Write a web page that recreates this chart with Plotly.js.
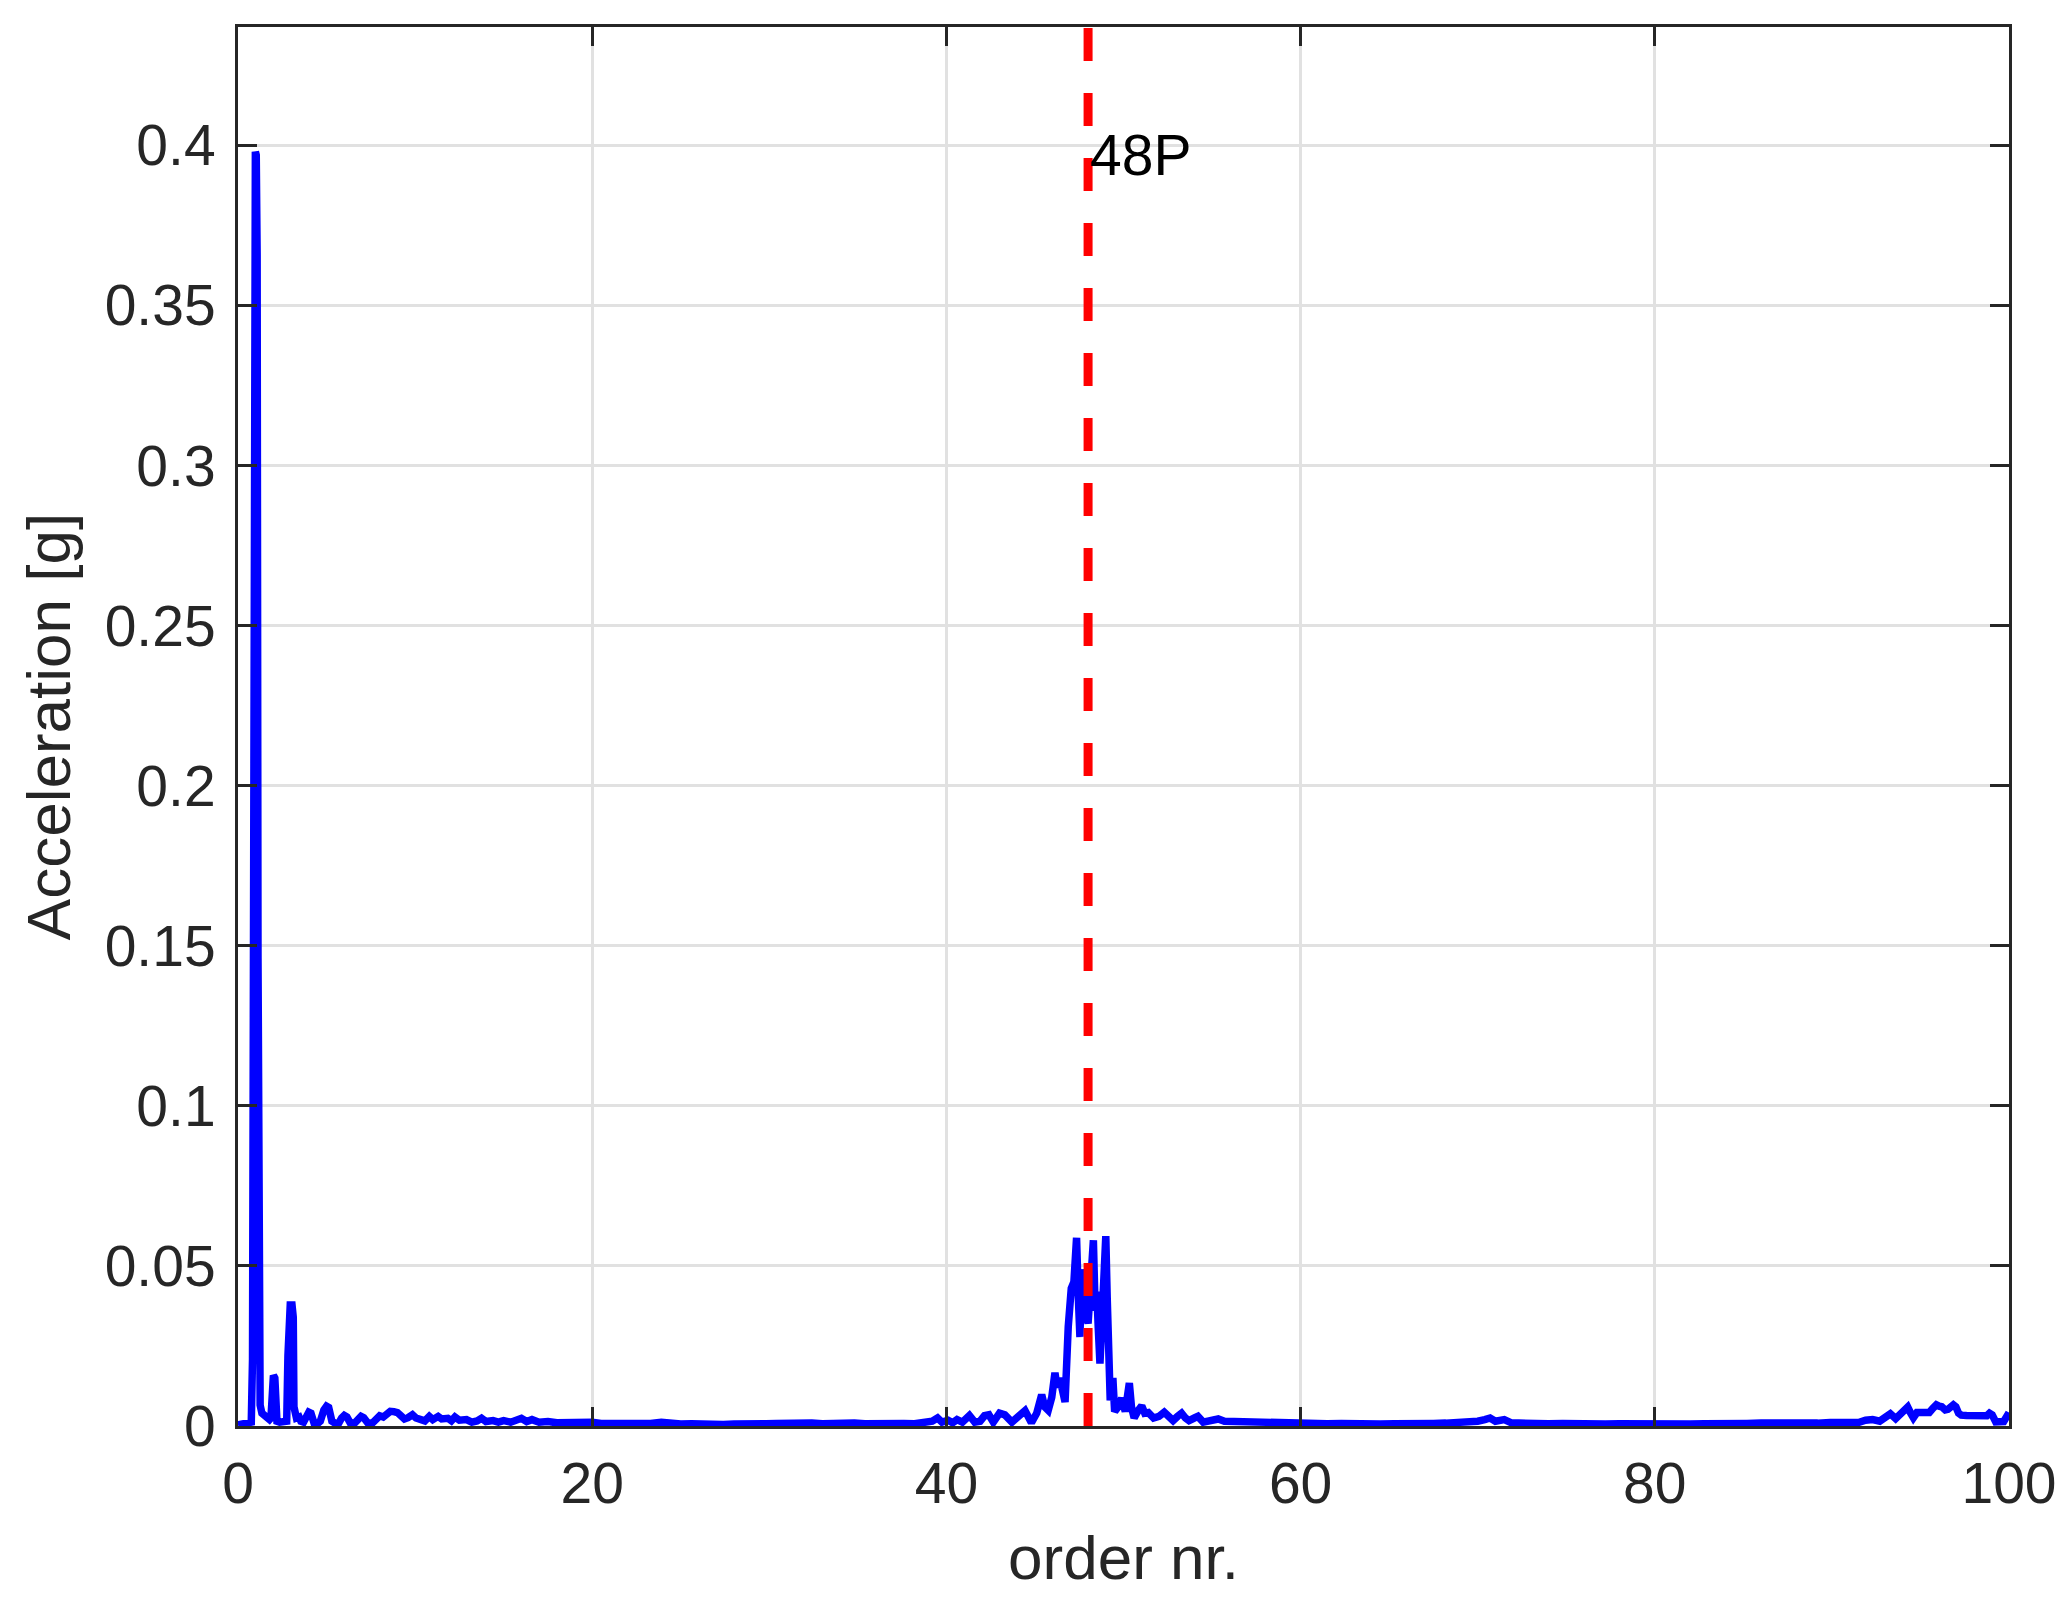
<!DOCTYPE html>
<html>
<head>
<meta charset="utf-8">
<script src="https://cdn.plot.ly/plotly-3.0.1.min.js"></script>
<style>html,body{margin:0;padding:0;background:#fff;}#chart{width:2066px;height:1611px;}</style>
</head>
<body>
<div id="chart"></div>
<script>
// ---- data ----
const orderNr = [
  0, 0.2, 0.4, 0.6, 0.75, 0.82, 0.88, 0.93, 0.98, 1.03, 1.08, 1.13, 1.18, 1.25, 1.35, 1.5, 1.65, 1.78,
  1.86, 1.92, 2.0, 2.08, 2.13, 2.2, 2.35, 2.5, 2.65, 2.75, 2.82, 2.88, 2.95, 3.05, 3.12, 3.16, 3.22, 3.3,
  3.45, 3.55, 3.7, 3.85, 4.0, 4.12, 4.3, 4.5, 4.65, 4.85, 5.0, 5.12, 5.3, 5.5, 5.7, 5.85, 6.0, 6.15,
  6.35, 6.6, 6.8, 6.95, 7.1, 7.35, 7.6, 7.85, 8.0, 8.2, 8.4, 8.6, 8.8, 9.0, 9.2, 9.4, 9.6, 9.85,
  10.05, 10.3, 10.55, 10.8, 11.0, 11.3, 11.5, 11.85, 12.05, 12.25, 12.5, 12.9, 13.2, 13.5, 13.75, 14.0,
  14.4, 14.7, 15.0, 15.4, 15.7, 16.0, 16.3, 16.6, 17.0, 17.5, 18.0, 18.6, 19.2, 20.0, 20.5, 21.0,
  21.6, 22.2, 22.8, 23.3, 23.9, 24.4, 25.0, 25.6, 26.2, 26.8, 27.4, 28.0, 28.6, 29.2, 29.8, 30.4,
  30.9, 31.3, 31.8, 32.4, 33.0, 33.6, 34.2, 34.8, 35.4, 36.0, 36.6, 37.1, 37.6, 38.2, 38.8, 39.2,
  39.5, 39.75, 40.1, 40.35, 40.6, 40.9, 41.3, 41.6, 41.9, 42.15, 42.4, 42.65, 43.0, 43.3, 43.7, 44.1,
  44.44, 44.8, 45.1, 45.38, 45.55, 45.75, 45.95, 46.13, 46.25, 46.4, 46.55, 46.7, 46.88, 47.05, 47.2,
  47.35, 47.45, 47.54, 47.64, 47.75, 47.85, 48.0, 48.15, 48.3, 48.4, 48.49, 48.58, 48.67, 48.8, 48.9,
  49.0, 49.08, 49.14, 49.25, 49.4, 49.5, 49.7, 49.9, 50.1, 50.2, 50.33, 50.45, 50.6, 50.85, 51.03,
  51.2, 51.4, 51.7, 52.0, 52.3, 52.55, 52.8, 53.05, 53.28, 53.5, 53.7, 54.0, 54.2, 54.5, 54.9, 55.35,
  55.7, 56.2, 56.8, 57.4, 58.0, 58.7, 59.4, 60.0, 60.8, 61.5, 62.3, 63.0, 63.8, 64.5, 65.3, 66.0,
  66.8, 67.5, 68.2, 68.9, 69.5, 70.0, 70.4, 70.7, 71.0, 71.5, 71.9, 72.5, 73.2, 74.0, 74.8, 75.6,
  76.4, 77.2, 78.0, 78.8, 79.6, 80.4, 81.2, 82.0, 82.8, 83.6, 84.4, 85.2, 86.0, 86.8, 87.6, 88.4,
  89.2, 89.9, 90.5, 91.0, 91.5, 91.9, 92.3, 92.7, 93.0, 93.3, 93.6, 93.85, 94.05, 94.28, 94.45, 94.6,
  94.8, 95.0, 95.3, 95.5, 95.7, 95.9, 96.05, 96.2, 96.4, 96.55, 96.86, 97.0, 97.15, 97.3, 97.6, 97.9,
  98.2, 98.5, 98.75, 98.9, 99.05, 99.25, 99.5, 99.7, 99.85, 100
];
const acceleration = [
  0.0004, 0.0005, 0.0006, 0.0008, 0.0012, 0.021, 0.25, 0.397, 0.398, 0.397, 0.366, 0.146, 0.012, 0.0065, 0.004, 0.003, 0.0025, 0.002,
  0.0025, 0.014, 0.0158, 0.015, 0.005, 0.0015, 0.0012, 0.0011, 0.0012, 0.0015, 0.022, 0.036, 0.0378, 0.0378, 0.034, 0.006, 0.003, 0.0025,
  0.0028, 0.0015, 0.0012, 0.003, 0.0043, 0.004, 0.0008, 0.0008, 0.0015, 0.005, 0.0062, 0.0058, 0.0015, 0.0008, 0.001, 0.0025, 0.0033, 0.0028,
  0.0008, 0.001, 0.0022, 0.003, 0.0026, 0.0008, 0.001, 0.003, 0.0032, 0.0028, 0.004, 0.0046, 0.0045, 0.0042, 0.0032, 0.0022, 0.0026, 0.0035,
  0.0025, 0.0022, 0.0016, 0.003, 0.002, 0.003, 0.0022, 0.0024, 0.0016, 0.0028, 0.0018, 0.002, 0.0012, 0.0016, 0.0024, 0.0014,
  0.0017, 0.0012, 0.0017, 0.0012, 0.0016, 0.0024, 0.0014, 0.002, 0.0012, 0.0014, 0.001, 0.0012, 0.0009, 0.0012, 0.0008, 0.0007,
  0.001, 0.0007, 0.0006, 0.0008, 0.0012, 0.0007, 0.0006, 0.0007, 0.0005, 0.0006, 0.0005, 0.0006, 0.0005, 0.0006, 0.0007, 0.0008,
  0.0009, 0.0012, 0.0008, 0.0009, 0.0007, 0.0009, 0.0008, 0.0009, 0.0007, 0.0008, 0.0009, 0.0012, 0.0008, 0.0007, 0.0009, 0.0015,
  0.0025, 0.0012, 0.0018, 0.001, 0.002, 0.0012, 0.0033, 0.0012, 0.0015, 0.0032, 0.0035, 0.0012, 0.004, 0.0035, 0.0012, 0.0035,
  0.0048, 0.001, 0.004, 0.0098, 0.006, 0.0049, 0.009, 0.0166, 0.012, 0.015, 0.01, 0.0075, 0.031, 0.043, 0.045,
  0.0588, 0.04, 0.0278, 0.0489, 0.04, 0.036, 0.032, 0.045, 0.058, 0.036, 0.042, 0.03, 0.0195, 0.035, 0.05,
  0.0593, 0.04, 0.018, 0.008, 0.015, 0.0045, 0.006, 0.0087, 0.0045, 0.008, 0.0134, 0.006, 0.0025, 0.005, 0.0063,
  0.004, 0.0042, 0.0025, 0.003, 0.0043, 0.003, 0.0017, 0.003, 0.004, 0.0025, 0.0017, 0.0025, 0.003, 0.0012, 0.0018, 0.0022,
  0.0015, 0.0014, 0.0012, 0.0013, 0.0011, 0.0012, 0.001, 0.0009, 0.0008, 0.0007, 0.0008, 0.0006, 0.0007, 0.0006, 0.0007, 0.0006,
  0.0007, 0.0008, 0.0009, 0.001, 0.0012, 0.0015, 0.002, 0.0025, 0.0015, 0.002, 0.001, 0.0008, 0.0009, 0.0007, 0.0008, 0.0006,
  0.0007, 0.0006, 0.0007, 0.0006, 0.0007, 0.0006, 0.0007, 0.0006, 0.0007, 0.0006, 0.0007, 0.0008, 0.0009, 0.0008, 0.0009, 0.001,
  0.0009, 0.0011, 0.001, 0.0012, 0.0011, 0.0018, 0.002, 0.0015, 0.0025, 0.0038, 0.0023, 0.0038, 0.0045, 0.0059, 0.004, 0.0026,
  0.0042, 0.0042, 0.0043, 0.0042, 0.0055, 0.0066, 0.0062, 0.006, 0.005, 0.0052, 0.0066, 0.006, 0.004, 0.0034, 0.0033, 0.0033,
  0.0031, 0.0033, 0.0032, 0.004, 0.0035, 0.0013, 0.0015, 0.0014, 0.0028, 0.0042
];
const markerOrder = [48, 48];
const markerSpan = [0, 0.437];
const markerLabel = '48P';
const xTicks = [0, 20, 40, 60, 80, 100];
const xTickText = ['0', '20', '40', '60', '80', '100'];
const yTicks = [0, 0.05, 0.1, 0.15, 0.2, 0.25, 0.3, 0.35, 0.4];
const yTickText = ['0', '0.05', '0.1', '0.15', '0.2', '0.25', '0.3', '0.35', '0.4'];

const FONT = 'Liberation Sans, Arial, Helvetica, sans-serif';
const INK = '#262626';

const traces = [
  {x: orderNr, y: acceleration, type: 'scatter', mode: 'lines',
   line: {color: '#0000ff', width: 7.5}, hoverinfo: 'skip'},
  {x: markerOrder, y: markerSpan, type: 'scatter', mode: 'lines',
   line: {color: '#ff0000', width: 9, dash: '33px,32px'}, hoverinfo: 'skip'}
];

const axisCommon = {
  showline: true, linecolor: INK, linewidth: 3, mirror: 'ticks',
  ticks: 'inside', ticklen: 19, tickwidth: 3, tickcolor: INK,
  showgrid: true, gridcolor: '#e1e1e1', gridwidth: 3, zeroline: false,
  tickfont: {family: FONT, size: 57, color: INK}
};

const layout = {
  width: 2066, height: 1611,
  margin: {l: 238, r: 57, t: 27, b: 185, pad: 0},
  paper_bgcolor: '#ffffff', plot_bgcolor: '#ffffff',
  showlegend: false,
  font: {family: FONT, color: INK},
  xaxis: Object.assign({}, axisCommon, {
    range: [0, 100], tickmode: 'array', tickvals: xTicks, ticktext: xTickText,
    ticklabelstandoff: 6,
    title: {text: 'order nr.', font: {family: FONT, size: 62, color: INK}, standoff: 22}
  }),
  yaxis: Object.assign({}, axisCommon, {
    range: [0, 0.437], tickmode: 'array', tickvals: yTicks, ticktext: yTickText,
    ticklabelstandoff: 8,
    title: {text: 'Acceleration [g]', font: {family: FONT, size: 62, color: INK}, standoff: 14}
  }),
  annotations: [{
    x: markerOrder[0], y: 0.397, xref: 'x', yref: 'y', text: markerLabel,
    showarrow: false, xanchor: 'left', yanchor: 'middle', xshift: 0,
    font: {family: FONT, size: 57, color: '#000000'}
  }]
};

Plotly.newPlot('chart', traces, layout, {staticPlot: true, displayModeBar: false});
</script>
</body>
</html>
